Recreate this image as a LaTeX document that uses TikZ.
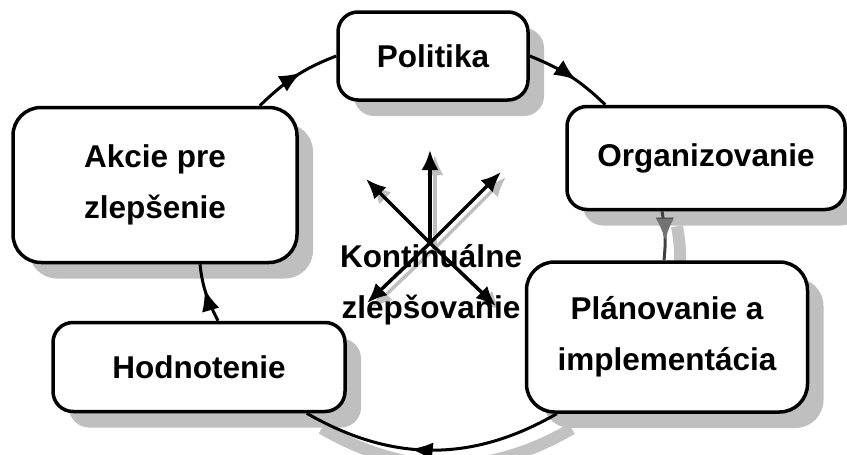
\documentclass[tikz,border=0pt]{standalone}
\usepackage{fontspec}
\setmainfont{Liberation Sans}
\usepackage{tikz}
\usetikzlibrary{shapes,arrows.meta,positioning,shadows,decorations.markings}
\pgfdeclarelayer{back}
\pgfsetlayers{back,main}

\begin{document}
\begin{tikzpicture}[
    x=1pt, y=-1pt,
    font=\fontsize{31.5}{51}\selectfont\bfseries,
    phase/.style={rectangle, rounded corners=20pt, draw, line width=3.5pt, fill=white, align=center, inner sep=4pt,
        drop shadow={shadow xshift=16pt, shadow yshift=-16pt, fill=black!25, opacity=1}},
    flow/.style={line width=3pt, postaction={decorate},
        decoration={markings, mark=at position 0.58 with {\arrow{Latex[length=22pt,width=18pt]}}}},
    flowshadow/.style={line width=12pt, draw=black!24},
    spoke/.style={-{Latex[length=20pt,width=17pt]}, line width=3.5pt},
    spokeshadow/.style={-{Latex[length=20pt,width=17pt]}, line width=3.5pt, draw=black!25, fill=black!25}
]
    \useasboundingbox (0,0) rectangle (847,455);

    \node[phase, minimum width=190pt, minimum height=88pt] (pol) at (433,56) {Politika};
    \node[phase, minimum width=278pt, minimum height=103pt] (org) at (706,158) {Organizovanie};
    \node[phase, rounded corners=28pt, minimum width=281pt, minimum height=150pt] (plan) at (667,337) {Plánovanie a\\implementácia};
    \node[phase, minimum width=292pt, minimum height=89pt] (hod) at (199,367) {Hodnotenie};
    \node[phase, rounded corners=28pt, minimum width=284pt, minimum height=155pt] (akc) at (155,185) {Akcie pre\\zlepšenie};

    \coordinate (hub) at (430,243);
    \coordinate (tipN) at (430,150);
    \coordinate (tipNW) at (366,179);
    \coordinate (tipNE) at (501,172);
    \coordinate (tipSW) at (367,303);
    \coordinate (tipSE) at (496,306);

    \begin{pgfonlayer}{back}
        \draw[flowshadow] ([shift={(-29,15)}]org.south) to[out=-80, in=84] ([shift={(12,15)}]plan.north);
        \draw[flowshadow] ([shift={(47,15)}]plan.south west) to[out=-150, in=-30] ([shift={(-25,15)}]hod.south east);
        \foreach \t in {tipN,tipNW,tipNE,tipSW,tipSE}
            \draw[spokeshadow] ([shift={(5,5)}]hub) -- ([shift={(5,5)}]\t);
    \end{pgfonlayer}

    \draw[flow] (pol.east) to[out=-22, in=136] ([xshift=40pt]org.north west);
    \draw[flow, draw=black!75, decoration={markings, mark=at position 0.6 with {\arrow[black!55]{Latex[length=22pt,width=18pt]}}}] ([xshift=-44pt]org.south) to[out=-80, in=84] ([xshift=-3pt]plan.north);
    \draw[flow] ([xshift=32pt]plan.south west) to[out=-150, in=-30] ([xshift=-40pt]hod.south east);
    \draw[flow] ([xshift=19pt]hod.north) to[out=117, in=-84] ([xshift=45pt]akc.south);
    \draw[flow] ([xshift=-39pt]akc.north east) to[out=44, in=-159] (pol.west);

    \foreach \t in {tipN,tipNW,tipNE,tipSW,tipSE}
        \draw[spoke] (hub) -- (\t);

    \node[align=center] (kz) at (431,285) {Kontinuálne\\zlepšovanie};
\end{tikzpicture}
\end{document}
